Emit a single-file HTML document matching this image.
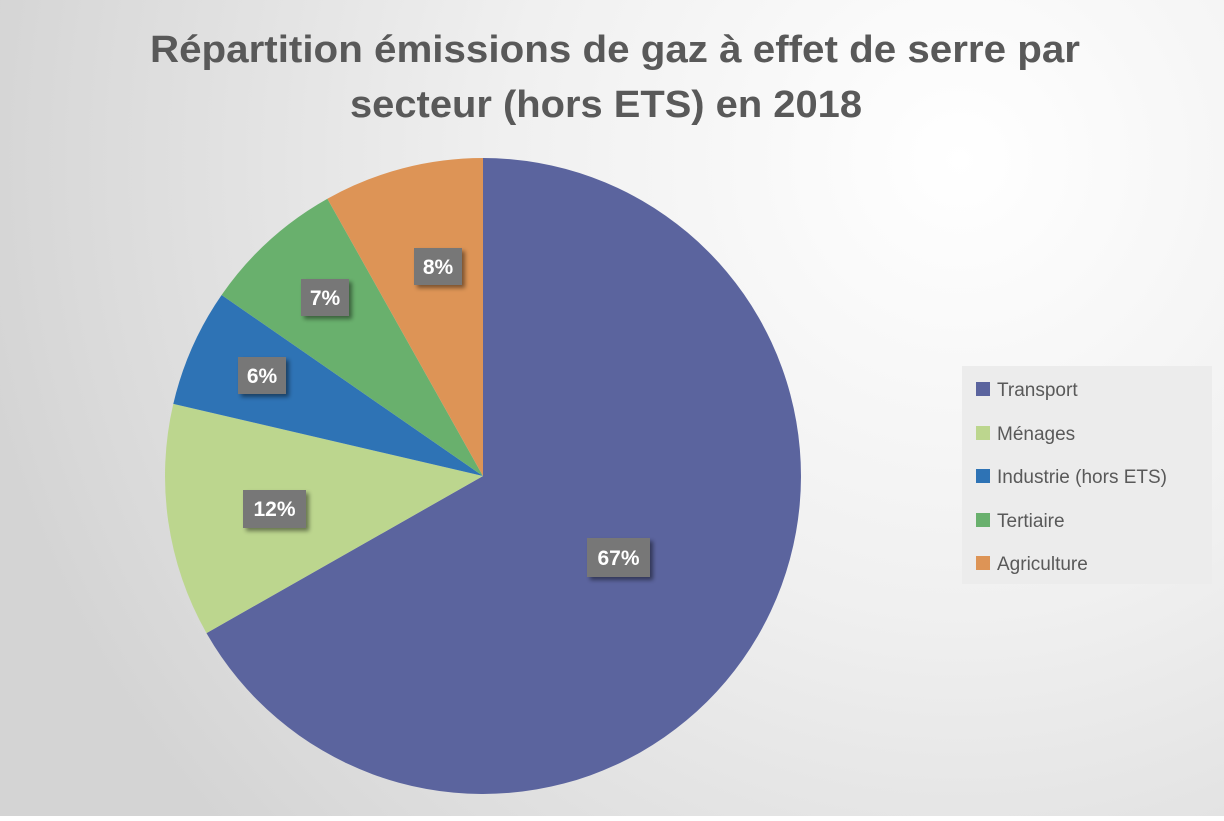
<!DOCTYPE html>
<html><head><meta charset="utf-8"><style>
html,body{margin:0;padding:0;}
body{width:1224px;height:816px;overflow:hidden;}
</style></head><body>
<svg width="1224" height="816" viewBox="0 0 1224 816" xmlns="http://www.w3.org/2000/svg">
<defs>
<radialGradient id="bg" cx="960" cy="160" r="1000" gradientUnits="userSpaceOnUse">
<stop offset="0" stop-color="#ffffff"/>
<stop offset="0.45" stop-color="#f0f0f0"/>
<stop offset="1" stop-color="#d4d4d4"/>
</radialGradient>
<filter id="sh" x="-20%" y="-20%" width="150%" height="150%"><feDropShadow dx="3" dy="3" stdDeviation="2" flood-color="#000" flood-opacity="0.45"/></filter>
</defs>
<rect width="1224" height="816" fill="url(#bg)"/>
<g font-family="Liberation Sans, sans-serif" font-weight="bold" fill="#595959" font-size="38" text-anchor="middle">
<text x="615" y="62" textLength="930" lengthAdjust="spacingAndGlyphs">Répartition émissions de gaz à effet de serre par</text>
<text x="606" y="117" textLength="512" lengthAdjust="spacingAndGlyphs">secteur (hors ETS) en 2018</text>
</g>
<g>
<path d="M483,476 L483,158 A318,318 0 1 1 206.5,633.1 Z" fill="#5b649e"/>
<path d="M483,476 L206.5,633.1 A318,318 0 0 1 173.3,403.9 Z" fill="#bcd68e"/>
<path d="M483,476 L173.3,403.9 A318,318 0 0 1 221.6,295 Z" fill="#2e73b5"/>
<path d="M483,476 L221.6,295 A318,318 0 0 1 327.4,198.7 Z" fill="#69b06d"/>
<path d="M483,476 L327.4,198.7 A318,318 0 0 1 483,158 Z" fill="#dd9456"/>
</g>
<g font-family="Liberation Sans, sans-serif" font-weight="bold" font-size="21" fill="#fff" text-anchor="middle">
<rect x="414" y="248" width="48" height="37" fill="#777" filter="url(#sh)"/><text x="438" y="274">8%</text>
<rect x="301" y="279" width="48" height="37" fill="#777" filter="url(#sh)"/><text x="325" y="305">7%</text>
<rect x="238" y="357" width="48" height="37" fill="#777" filter="url(#sh)"/><text x="262" y="383">6%</text>
<rect x="243" y="490" width="63" height="38" fill="#777" filter="url(#sh)"/><text x="274.5" y="516">12%</text>
<rect x="587" y="538" width="63" height="39" fill="#777" filter="url(#sh)"/><text x="618.5" y="565">67%</text>
</g>
<rect x="962" y="366" width="250" height="218" fill="#ececec"/>
<g font-family="Liberation Sans, sans-serif" font-size="19" fill="#595959">
<rect x="976" y="382" width="14" height="14" fill="#5b649e"/><text x="997" y="396">Transport</text>
<rect x="976" y="426" width="14" height="14" fill="#bcd68e"/><text x="997" y="440">Ménages</text>
<rect x="976" y="469" width="14" height="14" fill="#2e73b5"/><text x="997" y="483">Industrie (hors ETS)</text>
<rect x="976" y="513" width="14" height="14" fill="#69b06d"/><text x="997" y="527">Tertiaire</text>
<rect x="976" y="556" width="14" height="14" fill="#dd9456"/><text x="997" y="570">Agriculture</text>
</g>
</svg>
</body></html>
